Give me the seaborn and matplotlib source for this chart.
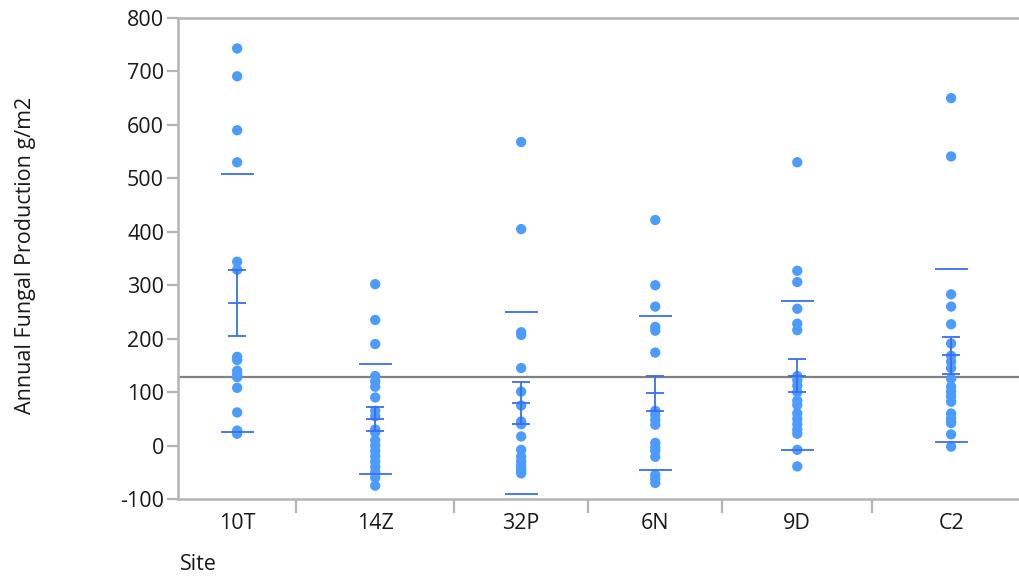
import numpy as np
import pandas as pd
import matplotlib
matplotlib.use("Agg")
import matplotlib.pyplot as plt
import seaborn as sns

# Annual fungal production (g/m2) by site
sites = ["10T", "14Z", "32P", "6N", "9D", "C2"]
prod_10T = [743, 691, 590, 530, 344, 329, 166, 160, 140, 133, 128, 108, 62, 28, 22]
prod_14Z = [302, 235, 190, 130, 120, 110, 90, 65, 55, 30, 25, 10, 0, -10, -20, -30,
            -40, -50, -60, -75]
prod_32P = [568, 405, 212, 207, 145, 101, 75, 45, 40, 17, -8, -21, -30, -38, -43,
            -48, -52]
prod_6N = [422, 300, 260, 222, 215, 174, 65, 57, 48, 39, 5, -3, -10, -21, -55, -62, -70]
prod_9D = [530, 327, 306, 256, 228, 216, 130, 122, 112, 100, 84, 76, 60, 50, 40, 30,
           22, -8, -39]
prod_C2 = [650, 541, 283, 260, 227, 191, 168, 157, 145, 125, 110, 101, 92, 82, 60, 51,
           45, 42, 21, -2]

# Group summaries: mean, standard error and standard deviation
site_mean = [267, 50, 79, 98, 131, 169]
site_se = [62, 23, 39, 33, 31, 35]
site_sd = [242, 103, 170, 144, 139, 162]
grand_mean = 128

y_ticks = [-100, 0, 100, 200, 300, 400, 500, 600, 700, 800]

groups = [prod_10T, prod_14Z, prod_32P, prod_6N, prod_9D, prod_C2]

# Each site's band on the x axis is proportional to its sample size
counts = np.array([len(g) for g in groups])
edges = np.concatenate([[0], np.cumsum(counts)])
centers = (edges[:-1] + edges[1:]) / 2

df = pd.DataFrame({
    "Site": np.repeat(sites, counts),
    "pos": np.repeat(centers, counts),
    "value": np.concatenate(groups),
})

sns.set_theme(style="white")
plt.rcParams["font.family"] = ["Open Sans", "DejaVu Sans"]

W, H = 1019, 576
fig = plt.figure(figsize=(W / 100, H / 100), dpi=100)
ax = fig.add_axes([178 / W, 77 / H, 852 / W, 481 / H])

point_color = "#4c9bff"
line_color = "#3a6cf5"
frame_color = "#b4b4b4"
text_color = "#1a1a1a"

# Grand mean reference line
ax.axhline(grand_mean, color="#808080", lw=1.6, zorder=1)

sns.scatterplot(data=df, x="pos", y="value", color=point_color, s=55,
                edgecolor="none", linewidth=0, ax=ax, zorder=3, legend=False)

sd_half = 2.1
cap_half = 1.15
for c, m, se, sd in zip(centers, site_mean, site_se, site_sd):
    # standard deviation lines
    ax.hlines([m - sd, m + sd], c - sd_half, c + sd_half, color=line_color, lw=1.3,
              zorder=4)
    # mean with standard error bars
    ax.vlines(c, m - se, m + se, color=line_color, lw=1.3, zorder=4)
    ax.hlines([m - se, m, m + se], c - cap_half, c + cap_half, color=line_color,
              lw=1.3, zorder=4)

ax.set_xlim(edges[0], edges[-1])
ax.set_ylim(-100, 800)
ax.set_yticks(y_ticks)
ax.set_yticklabels([str(v) for v in y_ticks])

# Site separators as major ticks, site names on minor ticks at band centres
ax.set_xticks(edges[1:-1])
ax.set_xticklabels([])
ax.set_xticks(centers, minor=True)
ax.set_xticklabels(sites, minor=True)
ax.tick_params(axis="x", which="major", direction="out", length=10, width=1.6,
               color=frame_color, bottom=True)
ax.tick_params(axis="x", which="minor", length=0, pad=10, labelsize=15.5,
               labelcolor=text_color)
ax.tick_params(axis="y", direction="out", length=8, width=1.6, color=frame_color,
               left=True, pad=2, labelsize=15.5, labelcolor=text_color)

for side in ["left", "top", "bottom", "right"]:
    ax.spines[side].set_color(frame_color)
    ax.spines[side].set_linewidth(1.8)

ax.set_xlabel("")
ax.set_ylabel("")
fig.text(26 / W, 1 - 255 / H, "Annual Fungal Production g/m2", rotation=90,
         ha="center", va="center", fontsize=15.5, color=text_color)
fig.text(180 / W, 1 - 564 / H, "Site", ha="left", va="center", fontsize=15.5,
         color=text_color)

fig.savefig("out.png", dpi=100)
